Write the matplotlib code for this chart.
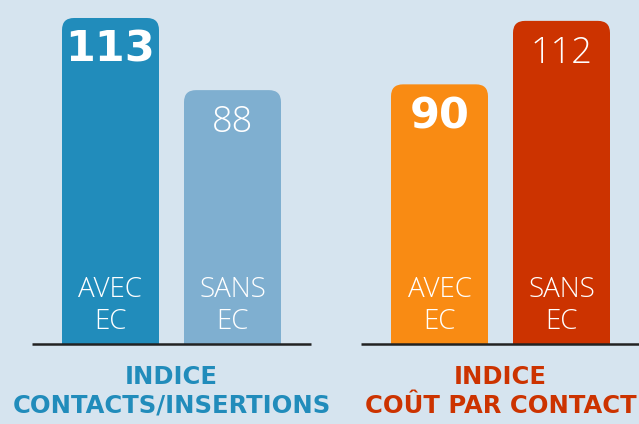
import matplotlib
matplotlib.use('Agg')

import matplotlib.pyplot as plt
from matplotlib.patches import FancyBboxPatch, Rectangle

# data
groups = ['INDICE\nCONTACTS/INSERTIONS', 'INDICE\nCOÛT PAR CONTACT']
categories = ['AVEC\nEC', 'SANS\nEC']
values = [[113, 88], [90, 112]]
bold_label = [[True, False], [True, False]]
bar_colors = [['#218cbb', '#7fafd0'], ['#f98b13', '#cc3300']]
title_colors = ['#218cbb', '#cc3300']

# layout (x in pixels, y in value units)
W, H = 639, 424
px_per_unit = 2.885
baseline_px = 80            # distance of baseline from bottom edge
group_centers = [171.5, 500.5]
bar_offsets = [-61, 61]
bar_width = 97
radius = 12
bg = '#d6e4ef'

fig = plt.figure(figsize=(W / 100, H / 100), dpi=100, facecolor=bg)
ax = fig.add_axes([0, 0, 1, 1])
ax.set_facecolor(bg)
ax.set_xlim(0, W)
ax.set_ylim(-baseline_px / px_per_unit, (H - baseline_px) / px_per_unit)
ax.axis('off')

for g, gc in enumerate(group_centers):
    xs = [gc + o for o in bar_offsets]
    bars = ax.bar(xs, values[g], width=bar_width, color=bar_colors[g], alpha=0)
    for b, bar in enumerate(bars):
        x0 = bar.get_x()
        h = bar.get_height()
        r_y = radius / px_per_unit
        patch = FancyBboxPatch((x0, -r_y * 2), bar_width, h + r_y * 2,
                               boxstyle=f'round,pad=0,rounding_size={radius}',
                               mutation_aspect=1 / px_per_unit,
                               facecolor=bar_colors[g][b], edgecolor='none', zorder=2)
        ax.add_patch(patch)
        clip = Rectangle((0, 0), W, 200, transform=ax.transData)
        patch.set_clip_path(clip)

        # value label
        if bold_label[g][b]:
            ax.annotate(str(values[g][b]), (xs[b], h), xytext=(0, -11), textcoords='offset pixels',
                        ha='center', va='top', color='white', fontsize=31, fontweight='bold',
                        family='DejaVu Sans', zorder=3)
        else:
            ax.annotate(str(values[g][b]), (xs[b], h), xytext=(0, -14), textcoords='offset pixels',
                        ha='center', va='top', color='white', fontsize=26, fontweight='light',
                        family='Open Sans', zorder=3)

        # category label
        ax.annotate(categories[b], (xs[b], 0), xytext=(0, 8), textcoords='offset pixels',
                    ha='center', va='bottom', color='white', fontsize=20, fontweight='light',
                    family='Open Sans', linespacing=1.2, zorder=3)

    # baseline
    ax.plot([gc - 139.5, gc + 139.5], [0, 0], color='#222222', lw=1.8, zorder=4,
            solid_capstyle='butt')

    # group title
    ax.annotate(groups[g], (gc, 0), xytext=(0, -21), textcoords='offset pixels',
                ha='center', va='top', color=title_colors[g], fontsize=17.5, fontweight='bold',
                family='DejaVu Sans', linespacing=1.25, zorder=3)

fig.savefig('out.png', dpi=100, facecolor=bg)
